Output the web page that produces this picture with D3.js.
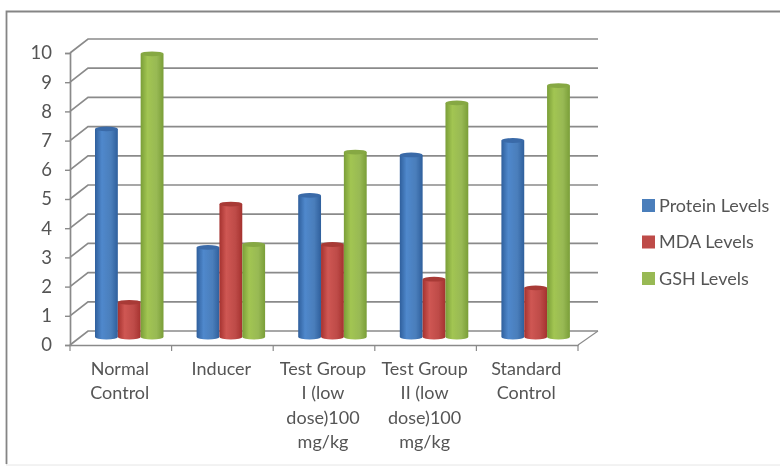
<!DOCTYPE html>
<html><head><meta charset="utf-8">
<script src="https://cdn.jsdelivr.net/npm/d3@7"></script>
<style>
html,body{margin:0;padding:0;background:#fff}
svg{display:block;filter:blur(0.6px)}
text{font-family:Lato,"Open Sans",sans-serif;fill:#555}
</style></head><body>
<svg id="c" width="780" height="466"></svg>
<script>
const categories=["Normal Control","Inducer","Test Group I (low dose)100 mg/kg","Test Group II (low dose)100 mg/kg","Standard Control"];
const categoryLines=[["Normal","Control"],["Inducer"],["Test Group","I (low","dose)100","mg/kg"],["Test Group","II (low","dose)100","mg/kg"],["Standard","Control"]];
const seriesNames=["Protein Levels","MDA Levels","GSH Levels"];
const protein=[7.2,3.1,4.9,6.3,6.8];
const mda=[1.2,4.6,3.2,2.0,1.7];
const gsh=[9.8,3.2,6.4,8.1,8.7];
const seriesValues=[protein,mda,gsh];
const colors=["#4a7ebb","#be4b48","#98b954"];
const darks=["#2f5f9c","#a5322f","#7a9e38"];
const lights=["#4f88cc","#cf5753","#a2c552"];
const tops=["#3a6aa8","#a83a36","#86a843"];
const yTicks=[0,1,2,3,4,5,6,7,8,9,10];

const svg=d3.select("#c");
const left=70,right=578,dx=18,dy=14;
const yFront=d3.scaleLinear().domain([0,10]).range([345,53]);
const yBar=d3.scaleLinear().domain([0,10]).range([337,48]);
const x=d3.scaleBand().domain(categories).range([left,right]);
const xs=d3.scaleBand().domain(seriesNames).range([25,25+68.5]);

// outer frame: strong top and left edges, faint bottom edge
svg.append("rect").attr("x",6.5).attr("y",11.5).attr("width",800).attr("height",453.5)
  .attr("fill","#fff").attr("stroke","#e6e6e6").attr("stroke-width",1);
svg.append("path").attr("d",d3.line()([[6.5,464],[6.5,11.5],[780,11.5]]))
  .attr("fill","none").attr("stroke","#858585").attr("stroke-width",1.8);

// gridlines and side-wall lines
const gridColor="#8a8a8a";
const g=svg.append("g").attr("fill","none").attr("stroke",gridColor).attr("stroke-width",1.7);
yTicks.forEach(t=>{
  const y=yFront(t);
  g.append("path").attr("d",d3.line()([[left,y],[left+dx,y-dy],[right+dx+2,y-dy]]));
});
g.append("path").attr("d",d3.line()([[right,yFront(0)],[right+dx+2,yFront(0)-dy]])).attr("stroke-width",1.1);

// front axes through d3 axes
const axisY=svg.append("g").attr("transform",`translate(${left},0)`).call(d3.axisLeft(yFront).tickValues(yTicks).tickSize(5).tickPadding(13));
axisY.select(".domain").attr("stroke",gridColor).attr("stroke-width",1.7);
axisY.selectAll("line").attr("stroke",gridColor).attr("stroke-width",1.4);
axisY.selectAll("text").style("font-size","18.5px").style("font-family","Lato,sans-serif").style("fill","#555");

const axisX=svg.append("g").attr("transform",`translate(0,${yFront(0)})`).call(d3.axisBottom(x).tickSize(0).tickFormat(""));
axisX.select(".domain").attr("stroke",gridColor).attr("stroke-width",1.7);
axisX.selectAll(".bound").data(d3.range(categories.length+1)).join("line")
  .attr("x1",i=>left+i*x.step()).attr("x2",i=>left+i*x.step()).attr("y1",0).attr("y2",6)
  .attr("stroke",gridColor).attr("stroke-width",1.2);

// cylinders
const defs=svg.append("defs");
colors.forEach((c,i)=>{
  const gr=defs.append("linearGradient").attr("id","g"+i);
  gr.append("stop").attr("offset","0%").attr("stop-color",darks[i]);
  gr.append("stop").attr("offset","30%").attr("stop-color",lights[i]);
  gr.append("stop").attr("offset","70%").attr("stop-color",c);
  gr.append("stop").attr("offset","100%").attr("stop-color",darks[i]);
});
categories.forEach((cat,ci)=>{
  seriesNames.forEach((s,si)=>{
    const v=seriesValues[si][ci];
    const bx=x(cat)+xs(s), bw=xs.bandwidth();
    const top=yBar(v), bot=yBar(0), ry=2.4;
    const gb=svg.append("g");
    gb.append("path")
      .attr("d",`M${bx},${top}L${bx},${bot}A${bw/2},${ry} 0 0 0 ${bx+bw},${bot}L${bx+bw},${top}Z`)
      .attr("fill",`url(#g${si})`);
    gb.append("ellipse").attr("cx",bx+bw/2).attr("cy",top).attr("rx",bw/2).attr("ry",ry)
      .attr("fill",tops[si]);
  });
});

// category labels
categories.forEach((cat,ci)=>{
  const t=svg.append("text").attr("text-anchor","middle").style("font-size","18px")
    .attr("x",x(cat)+x.bandwidth()/2-1).attr("y",375);
  categoryLines[ci].forEach((ln,li)=>{
    t.append("tspan").attr("x",x(cat)+x.bandwidth()/2-1).attr("dy",li?24.3:0).text(ln);
  });
});

// legend
seriesNames.forEach((s,i)=>{
  const y=205.5+i*36.5;
  svg.append("rect").attr("x",642).attr("y",y-6.5).attr("width",13).attr("height",13).attr("fill",colors[i]);
  svg.append("text").attr("x",659).attr("y",y+6).style("font-size","18px").text(s);
});
</script></body></html>
